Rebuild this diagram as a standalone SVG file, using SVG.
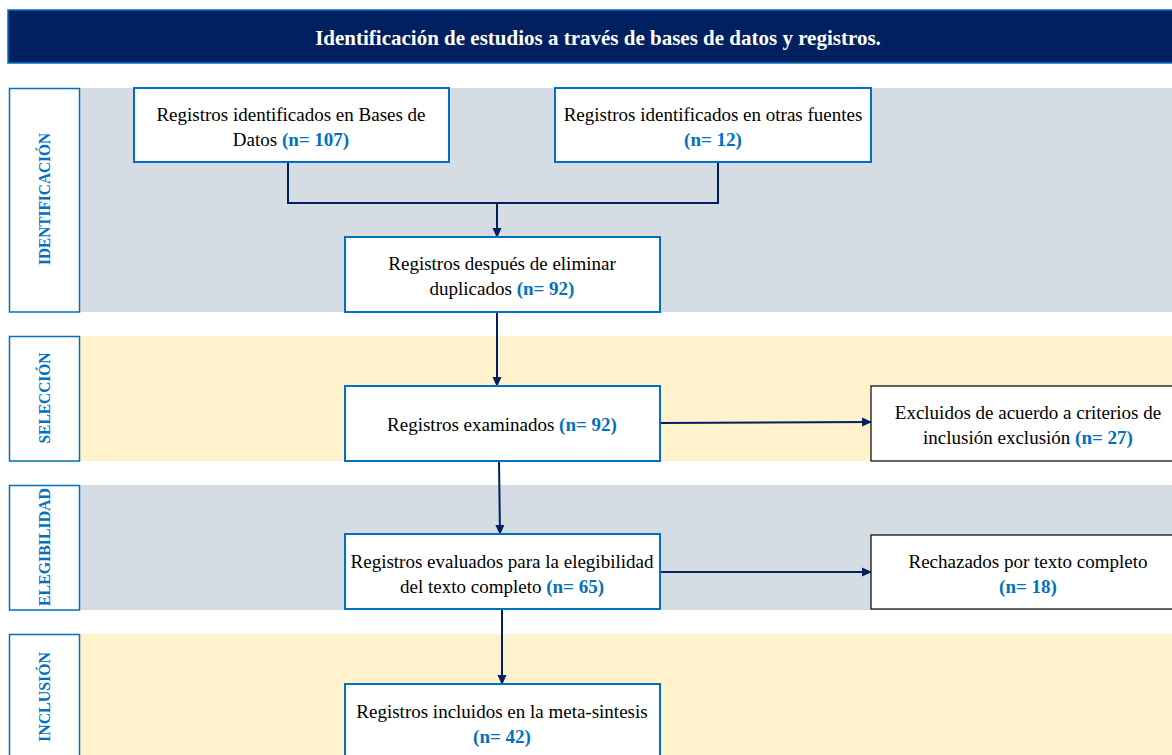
<svg xmlns="http://www.w3.org/2000/svg" width="1172" height="755" viewBox="0 0 1172 755">
<defs>
<marker id="ah" markerWidth="10" markerHeight="10" refX="9" refY="5" orient="auto" markerUnits="userSpaceOnUse">
<path d="M0,0.5 L10,5 L0,9.5 Z" fill="#002060"/>
</marker>
<style>
.band-g{fill:#d5dce4}
.band-y{fill:#fff2cc}
.lab{fill:#ffffff;stroke:#0070c0;stroke-width:1.5}
.labt{font-family:'Liberation Serif','Times New Roman','DejaVu Serif',serif;font-weight:bold;font-size:16px;fill:#0070c0;text-anchor:middle}
.box{fill:#ffffff;stroke:#0070c0;stroke-width:2}
.boxk{fill:#ffffff;stroke:#000000;stroke-width:1.2}
.t{font-family:'Liberation Serif','Times New Roman','DejaVu Serif',serif;font-size:19px;fill:#000000;text-anchor:middle}
.n{font-weight:bold;fill:#0070c0}
.con{fill:none;stroke:#002060;stroke-width:2}
.title{font-family:'Liberation Serif','Times New Roman','DejaVu Serif',serif;font-weight:bold;font-size:21px;fill:#ffffff;text-anchor:middle}
</style>
</defs>
<rect width="1172" height="755" fill="#ffffff"/>
<g id="header">
<rect x="8" y="10" width="1168" height="53" fill="#002060" stroke="#0070c0" stroke-width="1.5"/>
<text class="title" x="598" y="45">Identificación de estudios a través de bases de datos y registros.</text>
</g>
<g id="bands">
<rect class="band-g" x="80" y="88" width="1092" height="224"/>
<rect class="band-y" x="80" y="336" width="1092" height="125"/>
<rect class="band-g" x="80" y="485" width="1092" height="125"/>
<rect class="band-y" x="80" y="634" width="1092" height="121"/>
</g>
<g id="lab-identificacion">
<rect class="lab" x="9.5" y="88.5" width="70" height="223.5"/>
<text class="labt" transform="translate(50,199) rotate(-90)" textLength="132" lengthAdjust="spacingAndGlyphs">IDENTIFICACIÓN</text>
</g>
<g id="lab-seleccion">
<rect class="lab" x="9.5" y="336.5" width="70" height="124.5"/>
<text class="labt" transform="translate(50,398) rotate(-90)" textLength="91" lengthAdjust="spacingAndGlyphs">SELECCIÓN</text>
</g>
<g id="lab-elegibilidad">
<rect class="lab" x="9.5" y="485.5" width="70" height="124.5"/>
<text class="labt" transform="translate(50,547) rotate(-90)" textLength="118" lengthAdjust="spacingAndGlyphs">ELEGIBILIDAD</text>
</g>
<g id="lab-inclusion">
<rect class="lab" x="9.5" y="634.5" width="70" height="125"/>
<text class="labt" transform="translate(50,697) rotate(-90)" textLength="90" lengthAdjust="spacingAndGlyphs">INCLUSIÓN</text>
</g>
<g id="connectors">
<polyline class="con" points="288,162 288,203 718,203 718,162"/>
<line class="con" x1="497" y1="203" x2="497" y2="237" marker-end="url(#ah)"/>
<line class="con" x1="497" y1="312" x2="497" y2="386" marker-end="url(#ah)"/>
<line class="con" x1="499" y1="461" x2="500" y2="534" marker-end="url(#ah)"/>
<line class="con" x1="502" y1="609" x2="502" y2="684" marker-end="url(#ah)"/>
<line class="con" x1="660" y1="423" x2="871" y2="422" marker-end="url(#ah)"/>
<line class="con" x1="660" y1="572" x2="871" y2="572" marker-end="url(#ah)"/>
</g>
<g id="n-bases">
<rect class="box" x="134" y="88" width="315" height="74"/>
<text class="t" x="291" y="121">Registros identificados en Bases de</text>
<text class="t" x="291" y="146">Datos <tspan class="n">(n= 107)</tspan></text>
</g>
<g id="n-otras">
<rect class="box" x="555" y="88" width="316" height="74"/>
<text class="t" x="713" y="121">Registros identificados en otras fuentes</text>
<text class="t n" x="713" y="146">(n= 12)</text>
</g>
<g id="n-duplicados">
<rect class="box" x="345" y="237" width="315" height="75"/>
<text class="t" x="502" y="270">Registros después de eliminar</text>
<text class="t" x="502" y="295">duplicados <tspan class="n">(n= 92)</tspan></text>
</g>
<g id="n-examinados">
<rect class="box" x="345" y="386" width="315" height="75"/>
<text class="t" x="502" y="431">Registros examinados <tspan class="n">(n= 92)</tspan></text>
</g>
<g id="n-excluidos">
<rect class="boxk" x="871" y="386" width="305" height="75"/>
<text class="t" x="1028" y="419">Excluidos de acuerdo a criterios de</text>
<text class="t" x="1028" y="444">inclusión exclusión <tspan class="n">(n= 27)</tspan></text>
</g>
<g id="n-evaluados">
<rect class="box" x="345" y="534" width="315" height="75"/>
<text class="t" x="502" y="568">Registros evaluados para la elegibilidad</text>
<text class="t" x="502" y="593">del texto completo <tspan class="n">(n= 65)</tspan></text>
</g>
<g id="n-rechazados">
<rect class="boxk" x="871" y="535" width="305" height="74"/>
<text class="t" x="1028" y="568">Rechazados por texto completo</text>
<text class="t n" x="1028" y="593">(n= 18)</text>
</g>
<g id="n-incluidos">
<rect class="box" x="345" y="684" width="315" height="80"/>
<text class="t" x="502" y="718">Registros incluidos en la meta-sintesis</text>
<text class="t n" x="502" y="743">(n= 42)</text>
</g>
</svg>
